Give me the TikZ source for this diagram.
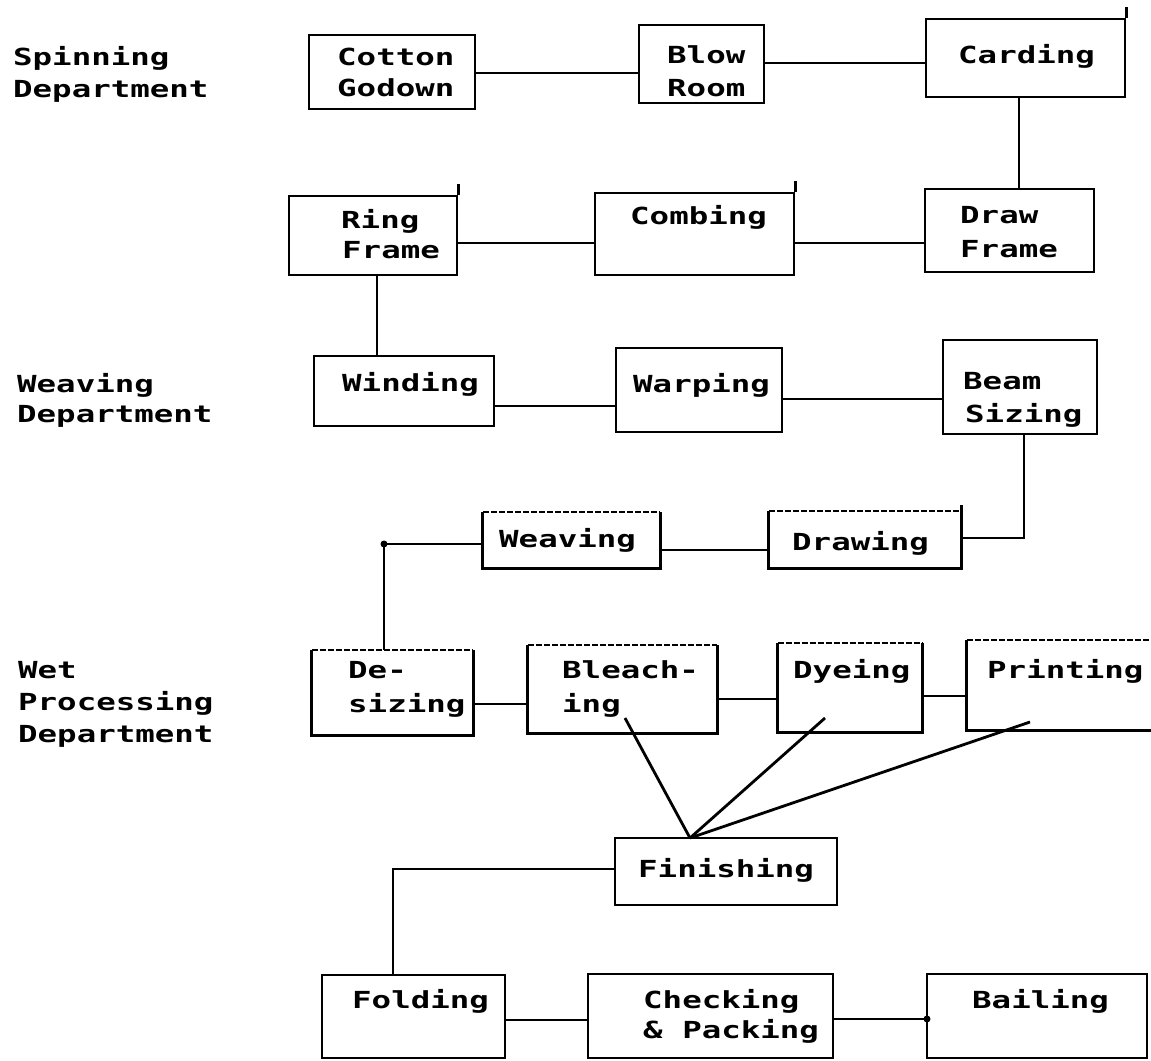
\documentclass[tikz,border=0pt]{standalone}
\usepackage{fontspec}
\newfontfamily\dotfont[FakeStretch=1.38]{DejaVu Sans Mono}
\usetikzlibrary{fit,calc}
\begin{document}
\begin{tikzpicture}[x=1pt,y=-1pt,
  box/.style={draw, line width=2.8pt, inner sep=0pt},
  plain/.style={inner sep=0pt},
  edge/.style={line width=2.8pt, line join=miter},
  faint/.style={line width=1.6pt, dash pattern=on 6pt off 2pt},
  conn/.style={line width=2.8pt},
  jdot/.style={circle, fill, inner sep=0pt, minimum size=7pt},
  lbl/.style={anchor=base west, inner sep=0pt, font=\dotfont\bfseries\fontsize{23.5}{32}\selectfont},
]
\fill[white] (0,0) rectangle (1151,1060);
\useasboundingbox (0,0) rectangle (1151,1060);

% department labels
\node[lbl] (sp1) at (13,65) {Spinning};
\node[lbl] (sp2) at (13,97) {Department};
\node[lbl] (we1) at (17,392) {Weaving};
\node[lbl] (we2) at (17,422) {Department};
\node[lbl] (wt1) at (18,678) {Wet};
\node[lbl] (wt2) at (18,710) {Processing};
\node[lbl] (wt3) at (18,742) {Department};

% boxes fully drawn
\node[box, fit={(309,35)(475,109)}]   (cg) {};
\node[box, fit={(639,25)(764,103)}]   (br) {};
\node[box, fit={(926,19)(1125,97)}]   (cd) {};
\node[box, fit={(289,196)(457,275)}]  (rf) {};
\node[box, fit={(595,193)(794,275)}]  (cb) {};
\node[box, fit={(925,189)(1094,272)}] (df) {};
\node[box, fit={(314,356)(494,426)}]  (wd) {};
\node[box, fit={(616,348)(782,432)}]  (wp) {};
\node[box, fit={(943,340)(1097,434)}] (bs) {};
\node[box, fit={(615,838)(837,905)}]  (fi) {};
\node[box, fit={(322,975)(505,1058)}] (fo) {};
\node[box, fit={(588,974)(833,1058)}] (cp) {};
\node[box, fit={(927,974)(1147,1058)}] (ba) {};

% boxes with a faint top edge
\node[plain, fit={(483,512)(660,568)}] (wv) {};
\node[plain, fit={(769,511)(961,568)}] (dw) {};
\node[plain, fit={(312,650)(473,735)}] (ds) {};
\node[plain, fit={(528,645)(717,733)}] (bl) {};
\node[plain, fit={(778,643)(922,732)}] (dy) {};
\node[plain, fit={(967,640)(1151,730)}] (pr) {};
\foreach \n in {wv,dw,ds,bl,dy}{
  \draw[edge] (\n.north west) -- (\n.south west) -- (\n.south east) -- (\n.north east);
  \draw[faint] (\n.north west) -- (\n.north east);
}
\draw[edge] (pr.north west) -- (pr.south west) -- (pr.south east);
\draw[faint] (pr.north west) -- (pr.north east);

% edges that run on past a corner
\draw[edge] (cd.north east) -- ++(0,-11);
\draw[edge] (rf.north east) -- ++(0,-11);
\draw[edge] (cb.north east) -- ++(0,-11);
\draw[edge] (dw.north east) -- ++(0,-6);

% box texts
\node[lbl] (cg1) at (337,65) {Cotton};
\node[lbl] (cg2) at (337,96) {Godown};
\node[lbl] (br1) at (667,63) {Blow};
\node[lbl] (br2) at (667,96) {Room};
\node[lbl] (cd1) at (958,63) {Carding};
\node[lbl] (rf1) at (341,228) {Ring};
\node[lbl] (rf2) at (342,258) {Frame};
\node[lbl] (cb1) at (630,224) {Combing};
\node[lbl] (df1) at (960,223) {Draw};
\node[lbl] (df2) at (960,257) {Frame};
\node[lbl] (wd1) at (342,391) {Winding};
\node[lbl] (wp1) at (633,392) {Warping};
\node[lbl] (bs1) at (963,389) {Beam};
\node[lbl] (bs2) at (965,422) {Sizing};
\node[lbl] (wv1) at (499,547) {Weaving};
\node[lbl] (dw1) at (792,550) {Drawing};
\node[lbl] (ds1) at (348,678) {De-};
\node[lbl] (ds2) at (348,712) {sizing};
\node[lbl] (bl1) at (562,678) {Bleach-};
\node[lbl] (bl2) at (562,712) {ing};
\node[lbl] (dy1) at (793,678) {Dyeing};
\node[lbl] (pr1) at (987,678) {Printing};
\node[lbl] (fi1) at (638,877) {Finishing};
\node[lbl] (fo1) at (352,1008) {Folding};
\node[lbl] (cp1) at (643,1008) {Checking};
\node[lbl] (cp2) at (643,1038) {\& Packing};
\node[lbl] (ba1) at (972,1008) {Bailing};

% connectors
\draw[conn] (cg.east |- 0,73) -- (br.west |- 0,73);
\draw[conn] (br.east |- 0,63) -- (cd.west |- 0,63);
\draw[conn] (cd.south -| 1019,0) -- (df.north -| 1019,0);
\draw[conn] (df.west |- 0,243) -- (cb.east |- 0,243);
\draw[conn] (cb.west |- 0,243) -- (rf.east |- 0,243);
\draw[conn] (rf.south -| 377,0) -- (wd.north -| 377,0);
\draw[conn] (wd.east |- 0,406) -- (wp.west |- 0,406);
\draw[conn] (wp.east |- 0,399) -- (bs.west |- 0,399);
\draw[conn] (bs.south -| 1024,0) |- (dw.east |- 0,538);
\draw[conn] (dw.west |- 0,550) -- (wv.east |- 0,550);
\draw[conn] (wv.west |- 0,544) -| (ds.north -| 384,0);
\node[jdot] (j1) at (384,544) {};
\draw[conn] (ds.east |- 0,704) -- (bl.west |- 0,704);
\draw[conn] (bl.east |- 0,699) -- (dy.west |- 0,699);
\draw[conn] (dy.east |- 0,696) -- (pr.west |- 0,696);
\coordinate (blIn) at (625,718);
\coordinate (dyIn) at (825,718);
\coordinate (prIn) at (1030,722);
\coordinate (fiTop) at (690,838);
\draw[conn] (blIn) -- (fiTop);
\draw[conn] (dyIn) -- (fiTop);
\draw[conn] (prIn) -- (fiTop);
\draw[conn] (fi.west |- 0,869) -| (fo.north -| 393,0);
\draw[conn] (fo.east |- 0,1020) -- (cp.west |- 0,1020);
\draw[conn] (cp.east |- 0,1019) -- (ba.west |- 0,1019);
\node[jdot] (j2) at (927,1019) {};
\end{tikzpicture}
\end{document}
